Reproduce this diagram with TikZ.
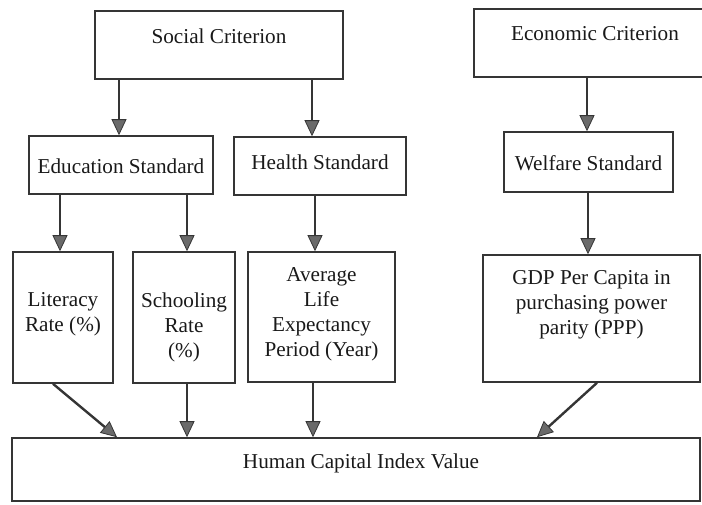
\documentclass[tikz,border=0pt]{standalone}
\usepackage{fontspec}
\setmainfont{Liberation Serif}
\usetikzlibrary{arrows.meta}
\definecolor{ink}{HTML}{353535}
\definecolor{tipfill}{HTML}{6A6A6A}
\begin{document}
\begin{tikzpicture}[x=1pt,y=-1pt,
  box/.style={draw=ink, line width=1.6pt, rectangle, inner sep=0pt, fill=none},
  lbl/.style={align=center, inner sep=0pt, text=black!90,
    font=\rmfamily\fontsize{21.2}{25}\selectfont},
  arr/.style={draw=ink, line width=2.4pt,
    -{Triangle[length=16pt,width=15pt,line width=0.8pt,fill=tipfill]}}]
\useasboundingbox (0,0) rectangle (702,504);
\clip (0,0) rectangle (702,504);

% top level criteria
\node[box, minimum width=248pt, minimum height=68pt] (soc) at (219,45) {};
\node[lbl] (soc-t) at (219,36) {Social Criterion};
\node[box, minimum width=242pt, minimum height=68pt] (eco) at (595,43) {};
\node[lbl] (eco-t) at (595,34) {Economic Criterion};

% standards
\node[box, minimum width=184pt, minimum height=58pt] (edu) at (121,165) {};
\node[lbl] (edu-t) at (121,166) {Education Standard};
\node[box, minimum width=172pt, minimum height=58pt] (hea) at (320,166) {};
\node[lbl] (hea-t) at (320,162) {Health Standard};
\node[box, minimum width=169pt, minimum height=60pt] (wel) at (588.5,162) {};
\node[lbl] (wel-t) at (588.5,163) {Welfare Standard};

% indicators
\node[box, minimum width=100pt, minimum height=131pt] (lit) at (63,317.5) {};
\node[lbl] (lit-t) at (63,314) {Literacy\\Rate (\%)};
\node[box, minimum width=102pt, minimum height=131pt] (sch) at (184,317.5) {};
\node[lbl] (sch-t) at (184,327) {Schooling\\Rate\\(\%)};
\node[box, minimum width=147pt, minimum height=130pt] (avg) at (321.5,317) {};
\node[lbl] (avg-t) at (321.5,314.5) {Average\\Life\\Expectancy\\Period (Year)};
\node[box, minimum width=217pt, minimum height=127pt] (gdp) at (591.5,318.5) {};
\node[lbl] (gdp-t) at (591.5,305) {GDP Per Capita in\\purchasing power\\parity (PPP)};

% index value
\node[box, minimum width=688pt, minimum height=63pt] (hci) at (356,469.5) {};
\node[lbl] (hci-t) at (361,463) {Human Capital Index Value};

% criteria to standards
\draw[arr] ([xshift=-2pt]edu.north |- soc.south) -- ([xshift=-2pt]edu.north);
\draw[arr] ([xshift=-8pt]hea.north |- soc.south) -- ([xshift=-8pt]hea.north);
\draw[arr] ([xshift=-1.5pt]wel.north |- eco.south) -- ([xshift=-1.5pt]wel.north);

% standards to indicators
\draw[arr] ([xshift=-3pt]lit.north |- edu.south) -- ([xshift=-3pt]lit.north);
\draw[arr] ([xshift=3pt]sch.north |- edu.south) -- ([xshift=3pt]sch.north);
\draw[arr] ([xshift=-6.5pt]avg.north |- hea.south) -- ([xshift=-6.5pt]avg.north);
\draw[arr] ([xshift=-3.5pt]gdp.north |- wel.south) -- ([xshift=-3.5pt]gdp.north);

% indicators to index value
\draw[arr] ([xshift=-10pt]lit.south) -- ([xshift=-239pt]hci.north);
\draw[arr] ([xshift=3pt]sch.south) -- ([xshift=3pt]sch.south |- hci.north);
\draw[arr] ([xshift=-8.5pt]avg.south) -- ([xshift=-8.5pt]avg.south |- hci.north);
\draw[arr] ([xshift=5.5pt]gdp.south) -- ([xshift=181pt]hci.north);
\end{tikzpicture}
\end{document}
